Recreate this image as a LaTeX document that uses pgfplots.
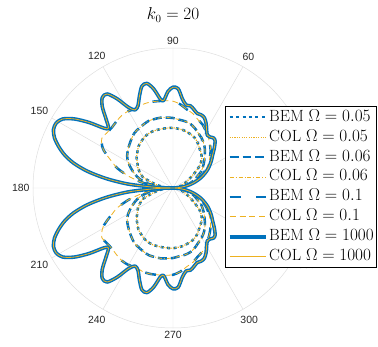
\documentclass[border=0pt]{standalone}
\usepackage{fontspec}
\setsansfont{Liberation Sans}
\usepackage{pgfplots}
\usepackage{pgfplotstable}
\pgfplotsset{compat=1.18}
\usepgfplotslibrary{polar}
\definecolor{bemblue}{rgb}{0,0.447,0.741}
\definecolor{colorange}{rgb}{0.929,0.694,0.125}
\definecolor{gridgray}{RGB}{222,222,222}
\definecolor{ticktext}{RGB}{38,38,38}
\newcommand{\tf}{\fontsize{16}{19}\selectfont}
\newcommand{\lf}{\fontsize{16.3}{19}\selectfont}

% Omega = 1000
\pgfplotstableread{
a r
0 0
4 0.04
8 0.085
12 0.13
16 0.17
20 0.21
24 0.245
28 0.28
32 0.31
36 0.34
40 0.37
44 0.41
48 0.45
51 0.46
54 0.45
57 0.45
60 0.48
63 0.52
66 0.55
69 0.56
72 0.56
75 0.58
78 0.60
81 0.60
84 0.64
87 0.71
90 0.72
93 0.69
96 0.63
98 0.64
101 0.72
104 0.77
107 0.76
110 0.70
113 0.64
116 0.62
119 0.66
122 0.75
125 0.82
128 0.82
131 0.77
134 0.69
137 0.63
139 0.65
142 0.76
145 0.86
148 0.93
151 0.955
154 0.95
157 0.92
160 0.87
163 0.81
166 0.73
169 0.62
172 0.48
175 0.32
178 0.12
180 0
182 0.12
185 0.32
188 0.48
191 0.62
194 0.73
197 0.81
200 0.87
203 0.92
206 0.95
209 0.955
212 0.93
215 0.86
218 0.76
221 0.65
223 0.63
226 0.69
229 0.77
232 0.82
235 0.82
238 0.75
241 0.66
244 0.62
247 0.64
250 0.70
253 0.76
256 0.77
259 0.72
262 0.64
264 0.63
267 0.69
270 0.72
273 0.71
276 0.64
279 0.60
282 0.60
285 0.58
288 0.56
291 0.56
294 0.55
297 0.52
300 0.48
303 0.45
306 0.45
309 0.46
312 0.45
316 0.41
320 0.37
324 0.34
328 0.31
332 0.28
336 0.245
340 0.21
344 0.17
348 0.13
352 0.085
356 0.04
360 0
}\dataO

% Omega = 0.1
\pgfplotstableread{
a r
0 0
5 0.05
10 0.10
15 0.15
20 0.19
25 0.235
30 0.275
35 0.31
40 0.345
45 0.38
50 0.41
55 0.44
60 0.47
65 0.50
70 0.52
75 0.55
80 0.57
85 0.60
90 0.62
95 0.625
100 0.63
105 0.635
110 0.635
115 0.625
120 0.635
125 0.635
130 0.625
135 0.615
140 0.615
145 0.62
148 0.60
151 0.57
154 0.52
157 0.47
160 0.43
163 0.37
166 0.31
170 0.22
175 0.11
180 0
185 0.11
190 0.22
194 0.31
197 0.37
200 0.43
203 0.47
206 0.52
209 0.57
212 0.60
215 0.62
220 0.615
225 0.615
230 0.625
235 0.635
240 0.635
245 0.625
250 0.635
255 0.635
260 0.63
265 0.625
270 0.62
275 0.60
280 0.57
285 0.55
290 0.52
295 0.50
300 0.47
305 0.44
310 0.41
315 0.38
320 0.345
325 0.31
330 0.275
335 0.235
340 0.19
345 0.15
350 0.10
355 0.05
360 0
}\dataT

% Omega = 0.06
\pgfplotstableread{
a r
0 0
5 0.04
10 0.08
15 0.12
20 0.16
25 0.19
30 0.23
35 0.26
40 0.29
45 0.32
50 0.355
55 0.385
60 0.41
65 0.43
70 0.455
75 0.475
80 0.485
85 0.49
90 0.50
95 0.505
100 0.51
105 0.51
110 0.51
115 0.50
120 0.49
125 0.48
130 0.46
135 0.44
140 0.42
145 0.40
150 0.37
155 0.33
160 0.29
165 0.245
170 0.18
175 0.09
180 0
185 0.09
190 0.18
195 0.245
200 0.29
205 0.33
210 0.37
215 0.40
220 0.42
225 0.44
230 0.46
235 0.48
240 0.49
245 0.50
250 0.51
255 0.51
260 0.51
265 0.505
270 0.50
275 0.49
280 0.485
285 0.475
290 0.455
295 0.43
300 0.41
305 0.385
310 0.355
315 0.32
320 0.29
325 0.26
330 0.23
335 0.19
340 0.16
345 0.12
350 0.08
355 0.04
360 0
}\dataS

% Omega = 0.05
\pgfplotstableread{
a r
0 0
5 0.02
10 0.04
15 0.06
20 0.08
25 0.11
30 0.14
35 0.19
40 0.25
45 0.29
50 0.315
55 0.335
60 0.36
65 0.385
70 0.40
75 0.41
80 0.42
85 0.425
90 0.43
95 0.43
100 0.43
105 0.43
110 0.43
115 0.425
120 0.415
125 0.40
130 0.385
135 0.36
140 0.34
145 0.31
150 0.29
155 0.26
160 0.23
165 0.16
170 0.11
175 0.06
180 0
185 0.06
190 0.11
195 0.16
200 0.23
205 0.26
210 0.29
215 0.31
220 0.34
225 0.36
230 0.385
235 0.40
240 0.415
245 0.425
250 0.43
255 0.43
260 0.43
265 0.43
270 0.43
275 0.425
280 0.42
285 0.41
290 0.40
295 0.385
300 0.36
305 0.335
310 0.315
315 0.29
320 0.25
325 0.19
330 0.14
335 0.11
340 0.08
345 0.06
350 0.04
355 0.02
360 0
}\dataF

\begin{document}
\begin{tikzpicture}
\begin{polaraxis}[
  scale only axis, width=280bp, height=280bp,
  xmin=0, xmax=360, ymin=0, ymax=1,
  xtick={0,30,...,330},
  ytick=\empty,
  xmajorgrids,
  grid style={gridgray, line width=0.5pt},
  axis line style={gridgray, line width=0.5pt},
  y axis line style={draw=none},
  major tick length=0pt,
  /pgf/number format/assume math mode=true,
  xticklabel style={font=\sffamily\fontsize{10.5}{12}\selectfont, text=ticktext},
  title={\tf $k_0 = 20$},
  title style={at={(axis cs:90,1.1)}, anchor=base},
  legend cell align=left,
  legend style={at={(axis cs:21.9,1.571)}, anchor=north east,
    draw=black, line width=0.6pt, fill=white,
    inner xsep=2pt, inner ysep=3pt, row sep=4pt,
    nodes={inner xsep=1pt, inner ysep=0pt, text height=12pt, text depth=4pt}},
  legend image code/.code={\draw[#1, line cap=butt] (0pt,0pt) -- (37pt,0pt);},
  every axis plot/.append style={smooth, tension=0.5, line join=round},
]
\addplot[bemblue, line width=2.5pt, dash pattern=on 3pt off 3.5pt] table[x=a,y=r] {\dataF};
\addlegendentry{\lf BEM $\Omega = 0.05$}
\addplot[colorange, line width=1.2pt, dash pattern=on 1.2pt off 1.2pt] table[x=a,y=r] {\dataF};
\addlegendentry{\lf COL $\Omega = 0.05$}
\addplot[bemblue, line width=2.5pt, dash pattern=on 9pt off 4pt] table[x=a,y=r] {\dataS};
\addlegendentry{\lf BEM $\Omega = 0.06$}
\addplot[colorange, line width=0.8pt, dash pattern=on 4pt off 2pt on 1pt off 2pt] table[x=a,y=r] {\dataS};
\addlegendentry{\lf COL $\Omega = 0.06$}
\addplot[bemblue, line width=2.5pt, dash pattern=on 11pt off 16pt] table[x=a,y=r] {\dataT};
\addlegendentry{\lf BEM $\Omega = 0.1$}
\addplot[colorange, line width=0.8pt, dash pattern=on 6pt off 4pt] table[x=a,y=r] {\dataT};
\addlegendentry{\lf COL $\Omega = 0.1$}
\addplot[bemblue, line width=3.6pt] table[x=a,y=r] {\dataO};
\addlegendentry{\lf BEM $\Omega = 1000$}
\addplot[colorange, line width=0.8pt] table[x=a,y=r] {\dataO};
\addlegendentry{\lf COL $\Omega = 1000$}
\coordinate (O) at (axis cs:0,0);
\end{polaraxis}
\pgfresetboundingbox
\path[use as bounding box] ([shift={(-173bp,-159bp)}]O) rectangle ([shift={(205bp,188bp)}]O);
\end{tikzpicture}
\end{document}
